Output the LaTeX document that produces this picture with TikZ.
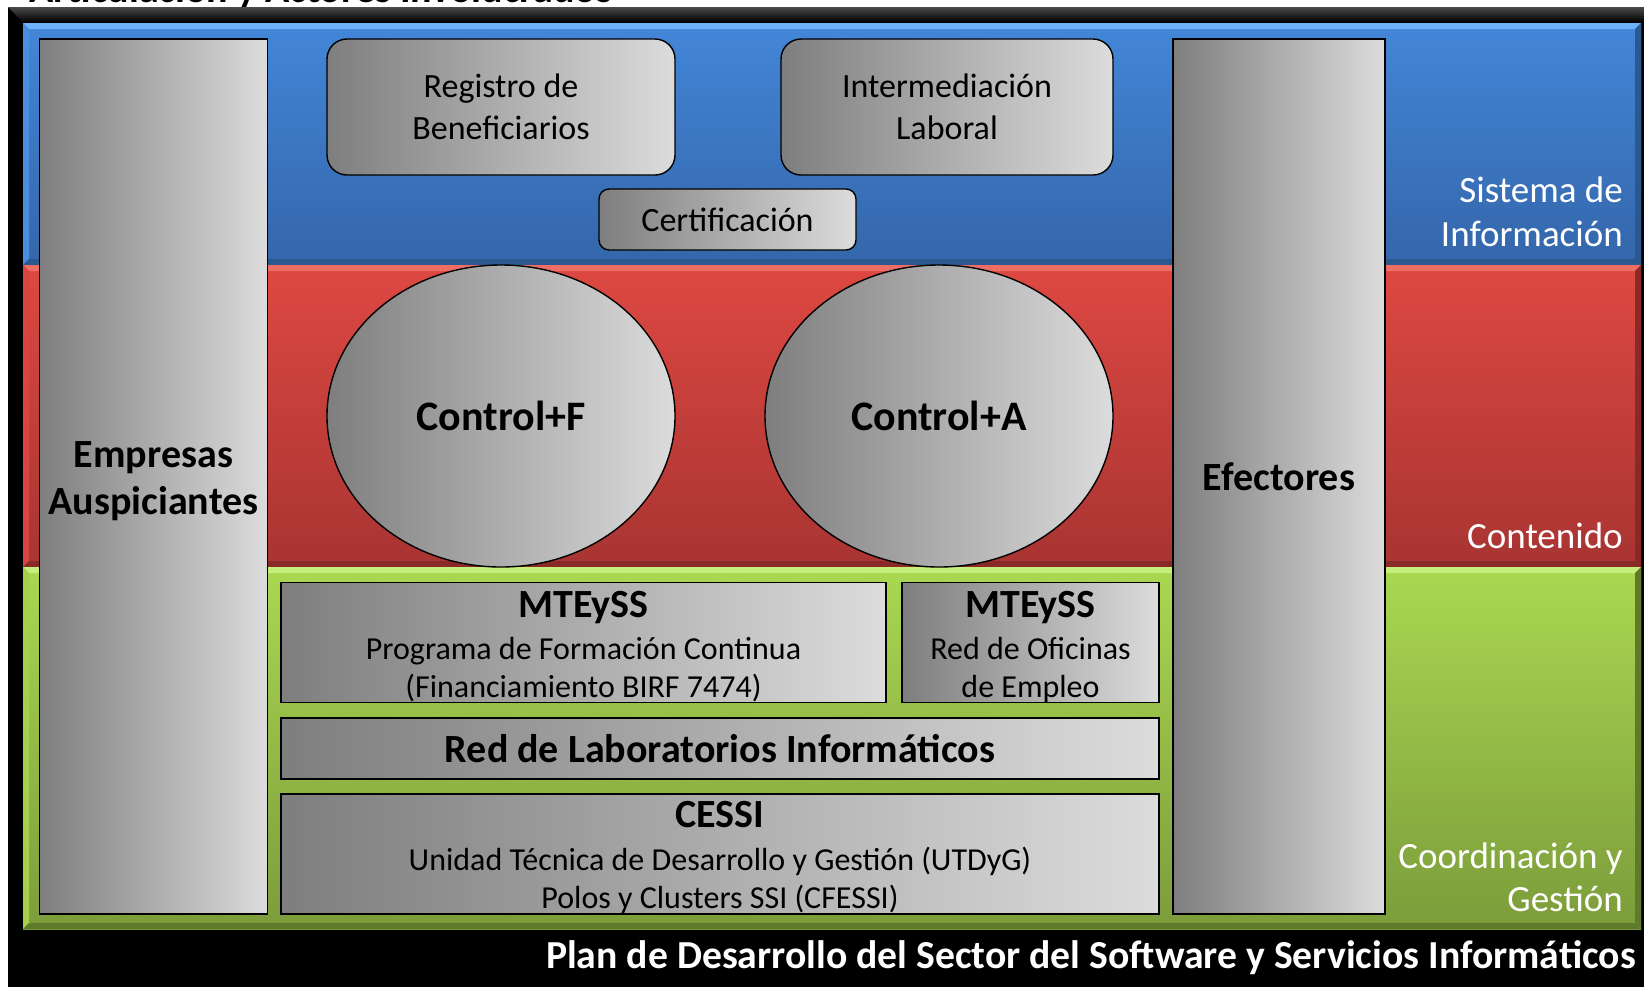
\documentclass[tikz,border=0pt]{standalone}
\usepackage{fontspec}
\setmainfont{Carlito}
\usetikzlibrary{shapes.geometric}
\definecolor{frameTop}{HTML}{4A4A4A}
\definecolor{blueT}{HTML}{4386D8}
\definecolor{blueB}{HTML}{3466AA}
\definecolor{blueH}{HTML}{6EB2FA}
\definecolor{blueL}{HTML}{4A8EE0}
\definecolor{blueD}{HTML}{2C5890}
\definecolor{redT}{HTML}{DE4842}
\definecolor{redB}{HTML}{A83432}
\definecolor{redH}{HTML}{EE6E66}
\definecolor{redL}{HTML}{D84440}
\definecolor{redD}{HTML}{8A2A28}
\definecolor{greenT}{HTML}{AAD852}
\definecolor{greenB}{HTML}{7C9C3A}
\definecolor{greenH}{HTML}{C6EE7A}
\definecolor{greenL}{HTML}{A4D04E}
\definecolor{greenD}{HTML}{5E7A2A}
\definecolor{boxL}{HTML}{7E7E7E}
\definecolor{boxR}{HTML}{DCDCDC}
\begin{document}
\begin{tikzpicture}[x=1pt,y=-1pt,
  graybox/.style={draw=black, line width=1.4pt, left color=boxL, right color=boxR,
    inner sep=0pt, align=center, text=black, font=\fontsize{34}{42}\selectfont},
  grayround/.style={graybox, rounded corners=20pt},
  grayoval/.style={graybox, ellipse},
  boldtxt/.style={font=\bfseries\fontsize{40}{47}\selectfont},
  boxtext/.style={inner sep=0pt, align=center, text=black},
  subtxt/.style={font=\fontsize{32}{38}\selectfont},
  bandlabel/.style={anchor=base east, text=white, inner sep=0pt, font=\fontsize{37}{44}\selectfont}]
\useasboundingbox (0,0) rectangle (1644,986);
\clip (0,0) rectangle (1644,986);
\fill[white] (0,0) rectangle (1644,986);
% title (cut off at the top)
\node[anchor=base west, inner sep=0pt, font=\bfseries\fontsize{40}{47}\selectfont] (title) at (29,2) {Articulación y Actores Involucrados};
% black frame
\fill[black] (8,7) rectangle (1700,1000);
\shade[top color=frameTop, bottom color=black] (8,7) -- (1700,7) -- (1700,22) -- (23,22) -- cycle;
% blue band
\shade[top color=blueT, bottom color=blueB] (23,23) rectangle (1641,265);
\fill[blueH] (23,23) -- (1641,23) -- (1635,29) -- (29,29) -- cycle;
\fill[blueL] (23,23) -- (29,29) -- (29,259) -- (23,265) -- cycle;
\fill[blueD] (1641,23) -- (1641,265) -- (1635,259) -- (1635,29) -- cycle;
\fill[blueD] (23,265) -- (1641,265) -- (1635,259) -- (29,259) -- cycle;
% red band
\shade[top color=redT, bottom color=redB] (23,265) rectangle (1641,567);
\fill[redH] (23,265) -- (1641,265) -- (1635,271) -- (29,271) -- cycle;
\fill[redL] (23,265) -- (29,271) -- (29,561) -- (23,567) -- cycle;
\fill[redD] (1641,265) -- (1641,567) -- (1635,561) -- (1635,271) -- cycle;
\fill[redD] (23,567) -- (1641,567) -- (1635,561) -- (29,561) -- cycle;
% green band
\shade[top color=greenT, bottom color=greenB] (23,567) rectangle (1641,929);
\fill[greenH] (23,567) -- (1641,567) -- (1635,573) -- (29,573) -- cycle;
\fill[greenL] (23,567) -- (29,573) -- (29,923) -- (23,929) -- cycle;
\fill[greenD] (1641,567) -- (1641,929) -- (1635,923) -- (1635,573) -- cycle;
\fill[greenD] (23,929) -- (1641,929) -- (1635,923) -- (29,923) -- cycle;
% band labels
\node[bandlabel] (si1) at (1623,202) {Sistema de};
\node[bandlabel] (si2) at (1623,246) {Información};
\node[bandlabel] (co1) at (1623,548) {Contenido};
\node[bandlabel] (cg1) at (1623,868) {Coordinación y};
\node[bandlabel] (cg2) at (1623,911) {Gestión};
% bottom caption
\node[anchor=base east, inner sep=0pt, text=white, font=\bfseries\fontsize{39.7}{47}\selectfont] (plan) at (1636,968) {Plan de Desarrollo del Sector del Software y Servicios Informáticos};
% side columns
\node[graybox, minimum width=228, minimum height=875] (emp) at (153.5,476.5) {};
\node[boxtext, boldtxt] (empt) at ([yshift=-5pt]emp.center) {Empresas\\Auspiciantes};
\node[graybox, boldtxt, minimum width=212, minimum height=875] (efe) at (1279,476.5) {Efectores};
% information system boxes
\node[grayround, minimum width=348, minimum height=136] (reg) at (501,107) {Registro de\\Beneficiarios};
\node[grayround, minimum width=332, minimum height=136] (int) at (947,107) {Intermediación\\Laboral};
\node[graybox, rounded corners=10pt, minimum width=257, minimum height=61] (cert) at (727.5,219.5) {Certificación};
% content ellipses
\node[grayoval, font=\bfseries\fontsize{42}{50}\selectfont, minimum width=348, minimum height=302] (cf) at (501,416) {Control+F};
\node[grayoval, font=\bfseries\fontsize{42}{50}\selectfont, minimum width=348, minimum height=302] (ca) at (939,416) {Control+A};
% coordination boxes
\node[graybox, minimum width=605, minimum height=120] (mt1) at (583.5,642.5) {};
\node[boxtext, subtxt] (mt1t) at ([yshift=-4pt]mt1.center) {{\bfseries\fontsize{40}{44}\selectfont MTEySS}\\[4pt]Programa de Formación Continua\\(Financiamiento BIRF 7474)};
\node[graybox, minimum width=257, minimum height=120] (mt2) at (1030.5,642.5) {};
\node[boxtext, subtxt] (mt2t) at ([yshift=-4pt]mt2.center) {{\bfseries\fontsize{40}{44}\selectfont MTEySS}\\[4pt]Red de Oficinas\\de Empleo};
\node[graybox, boldtxt, minimum width=878, minimum height=61] (lab) at (720,748.5) {Red de Laboratorios Informáticos};
\node[graybox, minimum width=878, minimum height=120] (cessi) at (720,854) {};
\node[boxtext, subtxt] (cessit) at ([yshift=-3pt]cessi.center) {{\bfseries\fontsize{40}{44}\selectfont CESSI}\\[5pt]Unidad Técnica de Desarrollo y Gestión (UTDyG)\\Polos y Clusters SSI (CFESSI)};
\end{tikzpicture}
\end{document}
